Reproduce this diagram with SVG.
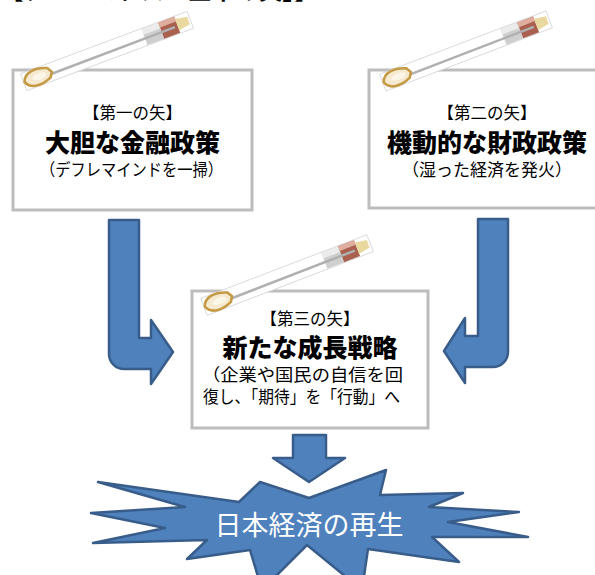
<svg xmlns="http://www.w3.org/2000/svg" xmlns:xlink="http://www.w3.org/1999/xlink" width="595" height="575" viewBox="0 0 595 575">
<style>
.box{fill:#ffffff;stroke:#bdbdbd;stroke-width:3}
.t{font-family:"Noto Sans CJK JP","Noto Sans CJK SC",sans-serif;fill:#000}
.lab{font-size:16.5px;text-anchor:middle}
.ttl{font-size:25px;font-weight:900;text-anchor:middle}
.sub{font-size:17px}
.blue{fill:#4f81bd;stroke:#385d8a;stroke-width:2.5;stroke-linejoin:round}
</style>
<defs>
<linearGradient id="shaft" x1="0" y1="0" x2="1" y2="0">
<stop offset="0" stop-color="#555"/>
<stop offset="0.5" stop-color="#141414"/>
<stop offset="1" stop-color="#444"/>
</linearGradient>
<g id="ya">
<rect x="-89" y="-9" width="178" height="18" fill="#ffffff" stroke="#d5d5d5" stroke-width="0.8"/>
<rect x="40" y="-8.5" width="18" height="17" fill="#cfcfcf"/>
<rect x="40" y="-8.5" width="18" height="6" fill="#ececec"/>
<rect x="58" y="-8.5" width="17" height="17" fill="#a9604f"/>
<rect x="58" y="-8.5" width="17" height="5" fill="#dfae9f"/>
<path d="M75,-6 L87,-4 L87,4 L75,6 Z" fill="#e9d9a0"/>
<line x1="-66" y1="2" x2="72" y2="1.5" stroke="#b0b0b0" stroke-width="2.5"/>
<line x1="-66" y1="0" x2="75" y2="0" stroke="url(#shaft)" stroke-width="3"/>
<path d="M-88,0 C-85,-9 -73,-10 -62,-5 L-59,0 L-62,5 C-73,10 -85,9 -88,0 Z" fill="#f5ead0" stroke="#c59a45" stroke-width="2.6"/>
<path d="M-80,0 C-77,-4 -71,-4 -66,-2 L-65,0 L-66,2 C-71,4 -77,4 -80,0 Z" fill="#fbf6e8"/>
</g>
</defs>
<rect width="595" height="575" fill="#ffffff"/>
<text class="t" x="0" y="-1" font-size="22" font-weight="700" textLength="318" lengthAdjust="spacingAndGlyphs">【アベノミクス「三本の矢」】</text>
<g id="connectors">
<path id="arrow-left" class="blue" d="M109,220 L139,220 L139,338 L151,338 L151,320 L173,352 L151,384 L151,369 L124,369 A15,15 0 0 1 109,354 Z"/>
<path id="arrow-right" class="blue" d="M478,219 L508,219 L508,352 A15,15 0 0 1 493,367 L465,367 L465,383 L444,351 L465,318 L465,336 L478,336 Z"/>
<path id="arrow-down" class="blue" d="M293,435 L326,435 L326,458 L345,458 L309,482 L273,458 L293,458 Z"/>
</g>
<g id="node-arrow1">
<rect class="box" x="13" y="70" width="239" height="140"/>
<use xlink:href="#ya" transform="translate(107,51) rotate(-20.5)"/>
<text class="t lab" x="132.5" y="119">【第一の矢】</text>
<text class="t ttl" x="132.5" y="152">大胆な金融政策</text>
<text class="t sub" x="40" y="176" textLength="183" lengthAdjust="spacingAndGlyphs">（デフレマインドを一掃）</text>
</g>
<g id="node-arrow2">
<rect class="box" x="369" y="70" width="240" height="138"/>
<use xlink:href="#ya" transform="translate(466,51) rotate(-20.8)"/>
<text class="t lab" x="487" y="119">【第二の矢】</text>
<text class="t ttl" x="487" y="152">機動的な財政政策</text>
<text class="t sub" x="402" y="176" textLength="170" lengthAdjust="spacingAndGlyphs">（湿った経済を発火）</text>
</g>
<g id="node-arrow3">
<rect class="box" x="192" y="291" width="236" height="137"/>
<use xlink:href="#ya" transform="translate(287,275) rotate(-21)"/>
<text class="t lab" x="310" y="325">【第三の矢】</text>
<text class="t ttl" x="310" y="357">新たな成長戦略</text>
<text class="t sub" x="202" y="381" font-size="18" textLength="201" lengthAdjust="spacingAndGlyphs">（企業や国民の自信を回</text>
<text class="t sub" x="203" y="403" font-size="18" textLength="197" lengthAdjust="spacingAndGlyphs">復し、「期待」を「行動」へ</text>
</g>
<g id="node-result">
<path class="blue" d="M260,482 L309,498 L386,470 L380,495 L463,493 L429,507 L519,512 L448,522 L528,537 L432,537 L459,562 L368,549 L362,590 L307,545 L262,590 L250,550 L187,559 L207,540 L93,543 L165,528 L91,513 L185,507 L98,482 L239,502 Z"/>
<text class="t" x="309" y="535" font-size="27" style="fill:#ffffff" text-anchor="middle">日本経済の再生</text>
</g>
</svg>
